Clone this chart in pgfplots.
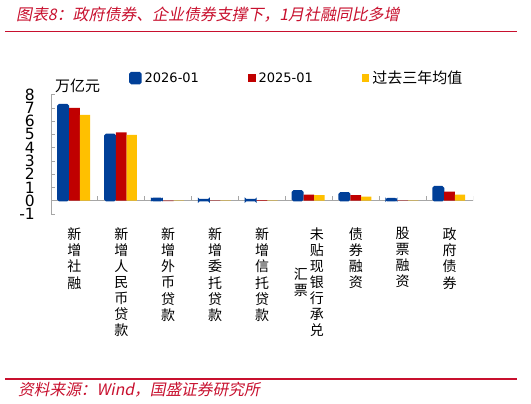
\documentclass[border=0pt]{standalone}
\usepackage{pgfplots}
\usepackage{pgfplotstable}
\pgfplotsset{compat=1.18}
\usepackage{fontspec}
\setmainfont{DejaVu Sans}
\newfontfamily\cjk{Noto Sans CJK SC}
\newfontfamily\cjkit{Noto Sans CJK SC}[FakeSlant=0.2]

\definecolor{bblue}{RGB}{0,63,152}
\definecolor{bred}{RGB}{192,0,0}
\definecolor{byel}{RGB}{255,192,0}
\definecolor{hred}{RGB}{200,16,46}

% vertical (stacked) tick label
\newcommand\vt[1]{\begin{tabular}{@{}c@{}}#1\end{tabular}}

% 万亿元: 2026-01, 2025-01, 过去三年均值
\pgfplotstableread{
x a b c
0 7.25 7.00 6.48
1 5.01 5.15 4.96
2 0.18 -0.03 -0.02
3 0.08 0.03 0.02
4 0.08 0.05 0.03
5 0.75 0.45 0.43
6 0.60 0.43 0.30
7 0.15 0.03 0.03
8 1.06 0.68 0.45
}\sfdata

\begin{document}
\begin{tikzpicture}
\fill[white] (0,0) rectangle (531bp,-404bp);
\useasboundingbox (0,0) rectangle (531bp,-404bp);

\node[anchor=base west, inner sep=0pt, text=hred, font=\cjkit\fontsize{15.9bp}{16bp}\selectfont]
  at (16bp,-20.5bp) {图表8：政府债券、企业债券支撑下，1月社融同比多增};
\draw[hred, line width=1.3bp] (5bp,-31.7bp) -- (517bp,-31.7bp);

\node[anchor=west, inner sep=0pt, font=\cjk\fontsize{15bp}{15bp}\selectfont]
  at (55bp,-86bp) {万亿元};

\begin{axis}[
  at={(51bp,-213.95bp)}, anchor=south west,
  scale only axis, width=422bp, height=119.25bp,
  xmin=-0.5, xmax=8.5, ymin=-1, ymax=8,
  enlargelimits=false,
  axis x line=bottom, axis y line=left,
  x axis line style={draw=none},
  y axis line style={-, draw=gray!70, line width=1bp},
  tick align=inside, major tick length=4bp,
  tick style={draw=gray!70, line width=0.8bp},
  ytick={-1,0,...,8}, yticklabels={-1,0,1,2,3,4,5,6,7,8},
  yticklabel style={anchor=east, inner sep=0pt, xshift=-16bp,
    font=\fontsize{15.5bp}{15.5bp}\selectfont},
  extra y ticks={0}, extra y tick labels={},
  extra y tick style={grid=major, major tick length=0pt,
    major grid style={draw=gray!70, line width=1.2bp}},
  xtick={0,1,2,3,4,5,6,7,8},
  xtick style={draw=none},
  xticklabels={
    \vt{新\\增\\社\\融},
    \vt{新\\增\\人\\民\\币\\贷\\款},
    \vt{新\\增\\外\\币\\贷\\款},
    \vt{新\\增\\委\\托\\贷\\款},
    \vt{新\\增\\信\\托\\贷\\款},
    \vt{汇\\票}\hspace{2bp}\vt{未\\贴\\现\\银\\行\\承\\兑},
    \vt{债\\券\\融\\资},
    \vt{股\\票\\融\\资},
    \vt{政\\府\\债\\券}},
  xticklabel style={anchor=north, inner sep=0pt, yshift=-13.3bp,
    font=\cjk\fontsize{14bp}{15bp}\selectfont},
  legend columns=3,
  legend style={draw=none, fill=none, at={(0.1848,1.140)}, anchor=west,
    inner sep=0pt, font=\fontsize{13bp}{13bp}\selectfont,
    nodes={inner sep=0pt},
    /tikz/every odd column/.append style={column sep=3bp},
    /tikz/every even column/.append style={column sep=49bp}},
]
% category separator ticks on the zero line
\addplot[ycomb, draw=gray!70, line width=0.8bp, mark=none, forget plot]
  coordinates {(0.5,0.34) (1.5,0.34) (2.5,0.34) (3.5,0.34) (4.5,0.34)
               (5.5,0.34) (6.5,0.34) (7.5,0.34) (8.5,0.34)};
\addplot[ybar, fill=bblue, draw=bblue, line width=1.5bp, rounded corners=1.5bp,
  bar width=10.5bp, bar shift=-11.3bp,
  legend image code/.code={\fill[bblue, rounded corners=1.5bp] (0bp,-5.5bp) rectangle (11bp,5.5bp);}]
  table[x=x, y=a] {\sfdata};
\addplot[ybar, fill=bred, draw=none, bar width=10.7bp, bar shift=0bp,
  legend image code/.code={\fill[bred] (0bp,-3.75bp) rectangle (7.5bp,3.75bp);}]
  table[x=x, y=b] {\sfdata};
\addplot[ybar, fill=byel, draw=none, bar width=10.3bp, bar shift=10.5bp,
  legend image code/.code={\fill[byel] (0bp,-3.75bp) rectangle (7.5bp,3.75bp);}]
  table[x=x, y=c] {\sfdata};
\legend{2026-01, 2025-01, {\cjk\fontsize{15bp}{15bp}\selectfont 过去三年均值}}
\end{axis}

\draw[hred, line width=1.3bp] (5bp,-379bp) -- (517bp,-379bp);
\node[anchor=base west, inner sep=0pt, text=hred, font=\cjkit\fontsize{15.7bp}{16bp}\selectfont]
  at (18bp,-395.5bp) {资料来源：Wind，国盛证券研究所};
\end{tikzpicture}
\end{document}
